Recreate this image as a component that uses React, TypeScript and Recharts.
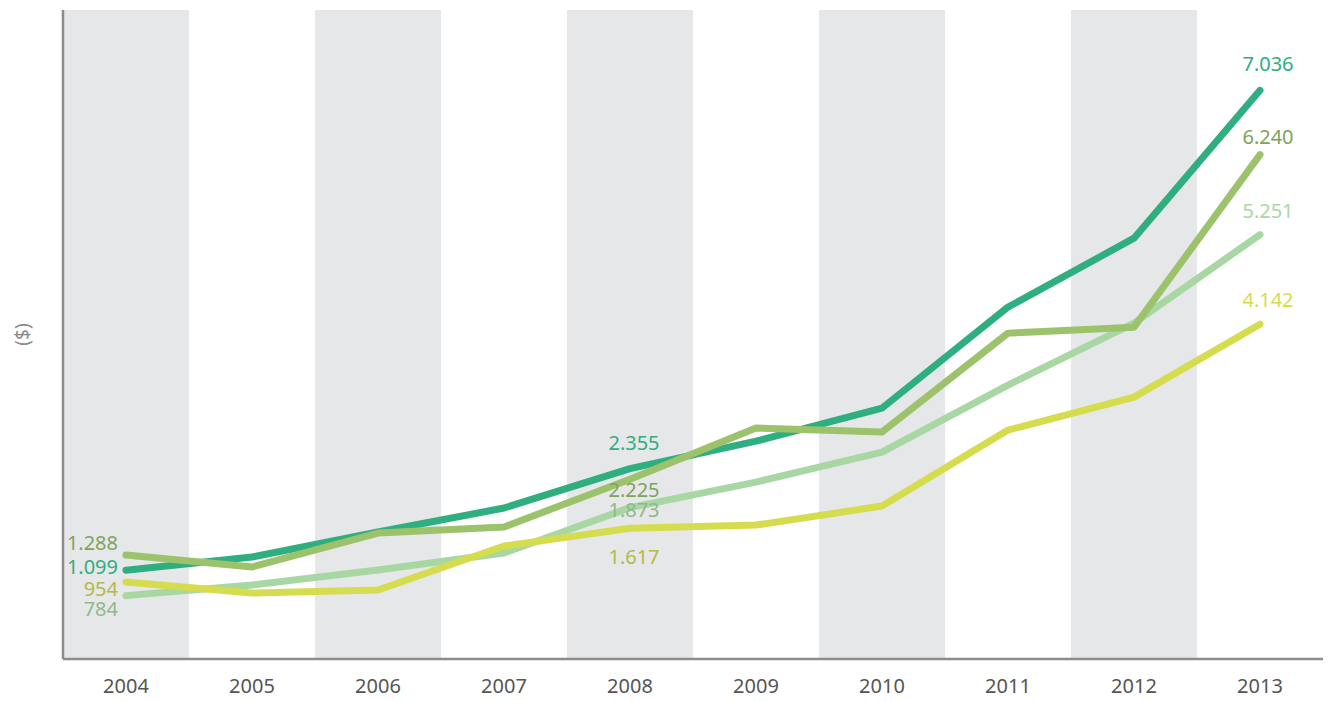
import {
  LabelList,
  Line,
  LineChart,
  ReferenceArea,
  XAxis,
  YAxis
} from "recharts";

const years = ["2004", "2005", "2006", "2007", "2008", "2009", "2010", "2011", "2012", "2013"];
const shadedYears = ["2004", "2006", "2008", "2010", "2012"];

const seriesA = [1099, 1262, 1571, 1868, 2355, 2696, 3104, 4354, 5207, 7036];
const seriesB = [1288, 1138, 1558, 1633, 2225, 2857, 2808, 4032, 4106, 6240];
const seriesC = [784, 915, 1101, 1311, 1873, 2189, 2560, 3389, 4156, 5251];
const seriesD = [954, 816, 853, 1398, 1617, 1657, 1892, 2832, 3240, 4142];

// indexes that get a value label
const labelled = [0, 4, 9];

const data = years.map((year, i) => ({
  year,
  a: seriesA[i],
  b: seriesB[i],
  c: seriesC[i],
  d: seriesD[i]
}));

type LabelStyle = {
  color: string;
  endColor: string;
  firstDy: number;
  midDy: number;
  endDy: number;
};

const fmt = (v: number) => String(v).replace(/\B(?=(\d{3})+(?!\d))/g, ".");

function makeLabel(style: LabelStyle) {
  return (props: any) => {
    const { x, y, value, index } = props;
    if (!labelled.includes(index)) return null;
    let tx = x;
    let ty = y;
    let anchor: "start" | "middle" | "end" = "middle";
    let fill = style.color;
    if (index === 0) {
      tx = x - 8;
      ty = y + style.firstDy;
      anchor = "end";
    } else if (index === 4) {
      tx = x + 4;
      ty = y + style.midDy;
    } else {
      tx = x + 8;
      ty = y + style.endDy;
      fill = style.endColor;
    }
    return (
      <text
        x={tx}
        y={ty}
        textAnchor={anchor}
        dominantBaseline="central"
        fill={fill}
        fontSize={20}
        fontFamily="'Noto Sans', sans-serif"
      >
        {fmt(Number(value))}
      </text>
    );
  };
}

const lines = [
  { key: "c", color: "#a9d7a3", label: { color: "#8fb98a", endColor: "#a9d7a3", firstDy: 13, midDy: 2, endDy: -24 } },
  { key: "d", color: "#d5dd4f", label: { color: "#b3bb44", endColor: "#d5dd4f", firstDy: 7, midDy: 28, endDy: -25 } },
  { key: "a", color: "#2fae80", label: { color: "#2fae80", endColor: "#2fae80", firstDy: -4, midDy: -26, endDy: -27 } },
  { key: "b", color: "#9cc36c", label: { color: "#80a35c", endColor: "#80a35c", firstDy: -12, midDy: 10, endDy: -18 } }
];

function YLabel(props: any) {
  const { viewBox } = props;
  const cx = viewBox.x + 14;
  const cy = viewBox.y + viewBox.height / 2;
  return (
    <text
      x={cx}
      y={cy}
      transform={`rotate(-90, ${cx}, ${cy})`}
      textAnchor="middle"
      dominantBaseline="central"
      fill="#8a8a8a"
      fontSize={19}
      fontFamily="'Noto Sans', sans-serif"
    >
      ($)
    </text>
  );
}

export default function App() {
  return (
    <div style={{ width: 1327, height: 693, background: "#fff" }}>
      <LineChart
        width={1327}
        height={693}
        data={data}
        margin={{ top: 2, right: 12, bottom: 0, left: 0 }}
      >
        {shadedYears.map((y) => (
          <ReferenceArea
            key={y}
            x1={y}
            x2={y}
            fill="#e6e7e9"
            fillOpacity={1}
            stroke="none"
            ifOverflow="extendDomain"
          />
        ))}
        <XAxis
          dataKey="year"
          scale="band"
          height={42}
          tickLine={false}
          axisLine={{ stroke: "#8c8c8c", strokeWidth: 2.5 }}
          tick={{ fill: "#555", fontSize: 20, fontFamily: "'Noto Sans', sans-serif" }}
          tickMargin={14}
          interval={0}
        />
        <YAxis
          domain={[0, 8030]}
          width={55}
          tick={false}
          tickLine={false}
          axisLine={{ stroke: "#8c8c8c", strokeWidth: 2.5 }}
          label={<YLabel />}
        />
        {lines.map((l) => (
          <Line
            key={l.key}
            type="linear"
            dataKey={l.key}
            stroke={l.color}
            strokeWidth={7}
            strokeLinecap="round"
            strokeLinejoin="round"
            dot={false}
            activeDot={false}
            isAnimationActive={false}
          >
            <LabelList dataKey={l.key} content={makeLabel(l.label)} />
          </Line>
        ))}
      </LineChart>
    </div>
  );
}
